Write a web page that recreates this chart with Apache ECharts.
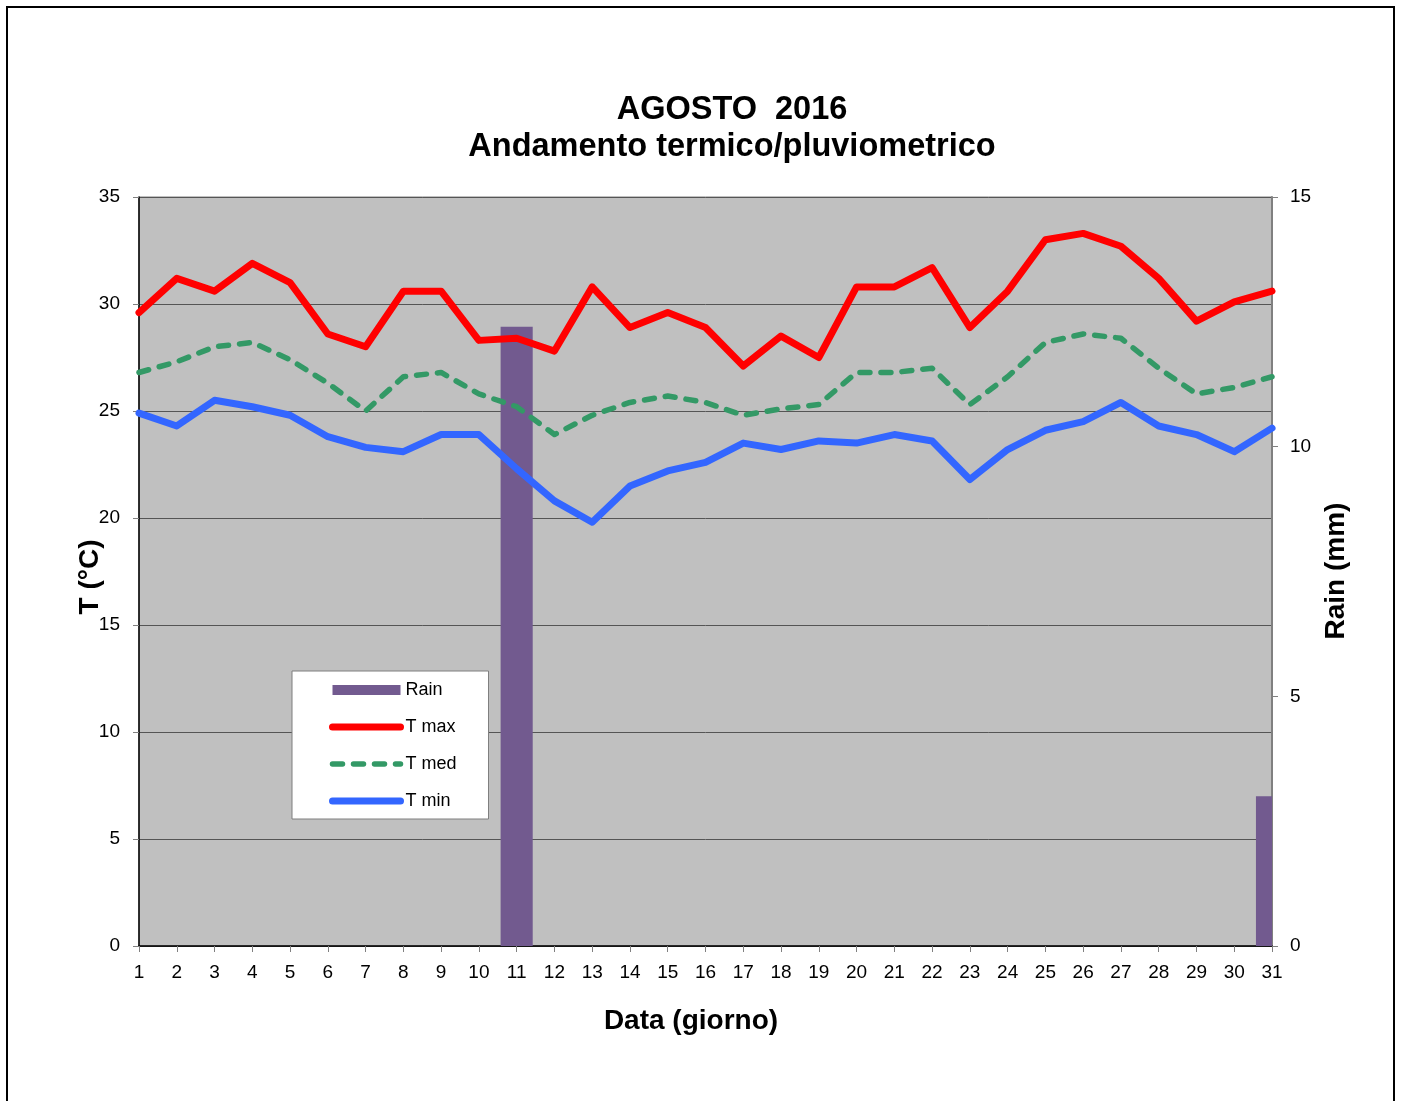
<!DOCTYPE html>
<html>
<head>
<meta charset="utf-8">
<script src="https://cdn.jsdelivr.net/npm/echarts@6/dist/echarts.min.js"></script>
<style>
html,body{margin:0;padding:0;background:#fff;}
#chart{width:1401px;height:1101px;}
</style>
</head>
<body>
<div id="chart"></div>
<script>
const days = ['1','2','3','4','5','6','7','8','9','10','11','12','13','14','15','16','17','18','19','20','21','22','23','24','25','26','27','28','29','30','31'];
const rain = [0,0,0,0,0,0,0,0,0,0,12.4,0,0,0,0,0,0,0,0,0,0,0,0,0,0,0,0,0,0,0,3.0];
const tMax = [29.6,31.2,30.6,31.9,31.0,28.6,28.0,30.6,30.6,28.3,28.4,27.8,30.8,28.9,29.6,28.9,27.1,28.5,27.5,30.8,30.8,31.7,28.9,30.6,33.0,33.3,32.7,31.2,29.2,30.1,30.6];
const tMed = [26.8,27.3,28.0,28.2,27.4,26.3,25.0,26.6,26.8,25.8,25.2,23.9,24.8,25.4,25.7,25.4,24.8,25.1,25.3,26.8,26.8,27.0,25.3,26.6,28.2,28.6,28.4,27.0,25.8,26.1,26.6];
const tMin = [24.9,24.3,25.5,25.2,24.8,23.8,23.3,23.1,23.9,23.9,22.3,20.8,19.8,21.5,22.2,22.6,23.5,23.2,23.6,23.5,23.9,23.6,21.8,23.2,24.1,24.5,25.4,24.3,23.9,23.1,24.2];

const FONT = '"Liberation Sans", Arial, sans-serif';
const chart = echarts.init(document.getElementById('chart'), null, {renderer: 'canvas'});

function renderRain(params, api) {
  const v = api.value(1);
  if (!v) return;
  const x = api.value(0);
  const top = api.coord([x, v]);
  const base = api.coord([x, 0]);
  const w = api.size([1, 0])[0] * 0.85;
  const cs = params.coordSys;
  const shape = echarts.graphic.clipRectByRect(
    {x: top[0] - w / 2, y: top[1], width: w, height: base[1] - top[1]},
    {x: cs.x, y: cs.y, width: cs.width, height: cs.height}
  );
  if (!shape) return;
  return {type: 'rect', shape: shape, style: api.style()};
}

const legendHide = {color: 'rgba(0,0,0,0)', borderWidth: 0, opacity: 0};

chart.setOption({
  backgroundColor: '#ffffff',
  animation: false,
  textStyle: {fontFamily: FONT},
  grid: {
    left: 139, right: 129, top: 197, bottom: 155,
    show: true, backgroundColor: '#C0C0C0', borderColor: '#808080', borderWidth: 1
  },
  legend: {
    orient: 'vertical',
    left: 292, top: 671,
    backgroundColor: '#ffffff',
    borderColor: '#7f7f7f', borderWidth: 1,
    padding: [10, 32, 9, 37],
    itemWidth: 68, itemHeight: 10, itemGap: 19,
    textStyle: {fontFamily: FONT, fontSize: 18, color: '#000'},
    lineStyle: {width: 'inherit', cap: 'round'},
    data: [
      {name: 'Rain', icon: 'rect'},
      {name: 'T max', itemStyle: legendHide},
      {name: 'T med', itemStyle: legendHide},
      {name: 'T min', itemStyle: legendHide}
    ]
  },
  xAxis: {
    type: 'category',
    data: days,
    boundaryGap: false,
    axisLine: {lineStyle: {color: '#000', width: 1.5}},
    axisTick: {show: true, length: 6, lineStyle: {color: '#808080'}},
    axisLabel: {fontFamily: FONT, fontSize: 19, color: '#000', margin: 17, interval: 0},
    splitLine: {show: false}
  },
  yAxis: [
    {
      type: 'value', min: 0, max: 35, interval: 5,
      axisLine: {show: true, lineStyle: {color: '#000', width: 1.5}},
      axisTick: {show: true, length: 6, lineStyle: {color: '#808080'}},
      axisLabel: {fontFamily: FONT, fontSize: 19, color: '#000', margin: 19},
      splitLine: {show: true, lineStyle: {color: '#555555', width: 1}}
    },
    {
      type: 'value', min: 0, max: 15, interval: 5,
      position: 'right',
      axisLine: {show: true, lineStyle: {color: '#808080', width: 2}},
      axisTick: {show: true, length: 6, lineStyle: {color: '#808080'}},
      axisLabel: {fontFamily: FONT, fontSize: 19, color: '#000', margin: 18},
      splitLine: {show: false}
    }
  ],
  series: [
    {
      name: 'Rain', type: 'custom', yAxisIndex: 1,
      data: rain.map((v, i) => [i, v]),
      encode: {x: 0, y: 1},
      renderItem: renderRain,
      itemStyle: {color: '#725A8F'}
    },
    {
      name: 'T max', type: 'line', data: tMax, symbol: 'none',
      lineStyle: {color: '#FF0000', width: 7, join: 'round', cap: 'round'},
      itemStyle: {color: '#FF0000'}
    },
    {
      name: 'T med', type: 'line', data: tMed, symbol: 'none',
      lineStyle: {color: '#339966', width: 5.5, type: [10, 11], cap: 'round', join: 'round'},
      itemStyle: {color: '#339966'}
    },
    {
      name: 'T min', type: 'line', data: tMin, symbol: 'none',
      lineStyle: {color: '#3366FF', width: 7, join: 'round', cap: 'round'},
      itemStyle: {color: '#3366FF'}
    }
  ],
  graphic: [
    {type: 'rect', z: -10, silent: true, shape: {x: 7, y: 7, width: 1387, height: 1200},
     style: {fill: null, stroke: '#000', lineWidth: 2}},
    {type: 'text', x: 732, y: 110, style: {text: 'AGOSTO  2016', font: 'bold 32.5px ' + FONT, fill: '#000', textAlign: 'center', textVerticalAlign: 'middle'}},
    {type: 'text', x: 732, y: 147, style: {text: 'Andamento termico/pluviometrico', font: 'bold 32.5px ' + FONT, fill: '#000', textAlign: 'center', textVerticalAlign: 'middle'}},
    {type: 'text', x: 691, y: 1021, style: {text: 'Data (giorno)', font: 'bold 28px ' + FONT, fill: '#000', textAlign: 'center', textVerticalAlign: 'middle'}},
    {type: 'text', x: 90, y: 577, rotation: Math.PI / 2, style: {text: 'T (°C)', font: 'bold 28px ' + FONT, fill: '#000', textAlign: 'center', textVerticalAlign: 'middle'}},
    {type: 'text', x: 1336, y: 571, rotation: Math.PI / 2, style: {text: 'Rain (mm)', font: 'bold 28px ' + FONT, fill: '#000', textAlign: 'center', textVerticalAlign: 'middle'}}
  ]
});
</script>
</body>
</html>
